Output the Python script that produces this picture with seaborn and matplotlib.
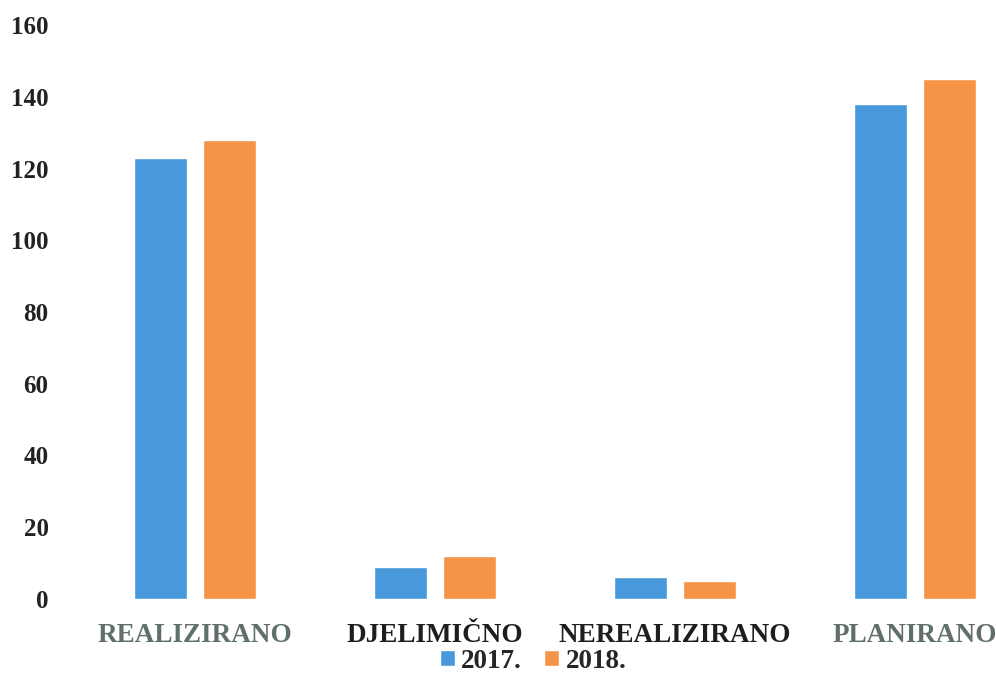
import seaborn as sns
import matplotlib.pyplot as plt
import pandas as pd

# Data
kategorije = ["REALIZIRANO", "DJELIMIČNO", "NEREALIZIRANO", "PLANIRANO"]
god_2017 = [123, 9, 6, 138]
god_2018 = [128, 12, 5, 145]
godine = ["2017.", "2018."]
y_ticks = [0, 20, 40, 60, 80, 100, 120, 140, 160]

df = pd.DataFrame({
    "kategorija": kategorije * 2,
    "godina": [godine[0]] * 4 + [godine[1]] * 4,
    "broj": god_2017 + god_2018,
})

sns.set_theme(style="white")
plt.rcParams['font.family'] = ['Liberation Serif', 'DejaVu Serif']
plt.rcParams['font.weight'] = 'bold'

fig = plt.figure(figsize=(9.96, 6.84), dpi=100)
ax = fig.add_axes([75/996, 85/684, 1 - 75/996, 574/684])

sns.barplot(
    data=df,
    x="kategorija",
    y="broj",
    hue="godina",
    palette=["#4799dc", "#f59447"],
    width=0.58,
    gap=0.24,
    saturation=1,
    ax=ax
)

ax.set_xlim(-0.5, (996 - 195) / 240)
ax.set_ylim(0, 160)
ax.set_yticks(y_ticks)
ax.set_yticklabels([str(t) for t in y_ticks], fontsize=18, fontweight='bold', color="#222222")
ax.tick_params(axis='y', length=0, pad=19)
ax.tick_params(axis='x', length=0, pad=17)

boje = ["#5e7068", "#1e1e1e", "#1e1e1e", "#5e7068"]
for lbl, c in zip(ax.get_xticklabels(), boje):
    lbl.set_color(c)
    lbl.set_fontsize(19.5)
    lbl.set_fontweight('bold')

ax.set_xlabel("")
ax.set_ylabel("")
sns.despine(ax=ax, left=True, bottom=True)

ax.legend(
    loc="center",
    bbox_to_anchor=(533/996, 1 - 661/684),
    bbox_transform=fig.transFigure,
    ncol=2,
    frameon=False,
    prop={'family': 'Liberation Serif', 'weight': 'bold', 'size': 19.5},
    handlelength=0.55,
    handleheight=0.55,
    handletextpad=0.25,
    columnspacing=0.8,
)

plt.savefig("out.png", dpi=100)
